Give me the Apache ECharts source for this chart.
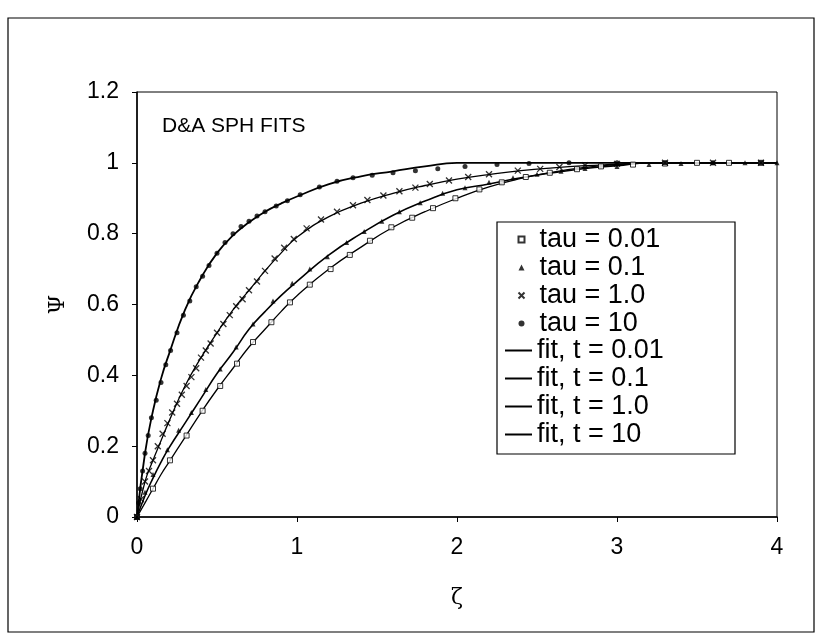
<!DOCTYPE html>
<html>
<head>
<meta charset="utf-8">
<script src="https://cdn.jsdelivr.net/npm/echarts@6.0.0/dist/echarts.min.js"></script>
<style>
  html, body { margin: 0; padding: 0; background: #fff; }
  #chart { width: 817px; height: 639px; }
</style>
</head>
<body>
<div id="chart"></div>
<script>
var xTau001 = [0, .1, .206, .31, .41, .52, .625, .725, .84, .956, 1.08, 1.21, 1.33, 1.456, 1.59, 1.72, 1.85, 1.99, 2.14, 2.28, 2.43, 2.58, 2.75, 2.9, 3.1, 3.3, 3.5, 3.7, 3.9];
var yTau001 = [0, .08, .16, .23, .30, .37, .433, .494, .55, .606, .656, .70, .74, .78, .818, .845, .872, .90, .925, .945, .96, .972, .982, .99, .995, .998, 1, 1, 1];

var xTau01 = [0, .05, .1, .19, .26, .34, .43, .52, .62, .725, .85, .97, 1.08, 1.19, 1.31, 1.42, 1.53, 1.64, 1.77, 1.91, 2.05, 2.2, 2.35, 2.5, 2.65, 2.8, 3.0, 3.2, 3.4, 3.6, 3.8, 4.0];
var yTau01 = [0, .07, .12, .19, .245, .295, .36, .418, .48, .545, .61, .66, .70, .735, .775, .806, .835, .862, .887, .914, .93, .945, .958, .968, .976, .984, .99, .995, .998, 1, 1, 1];

var xTau1 = [0, .025, .05, .075, .1, .13, .16, .19, .22, .25, .28, .31, .34, .37, .4, .43, .46, .5, .54, .58, .62, .66, .7, .75, .8, .86, .92, .98, 1.06, 1.15, 1.25, 1.35, 1.44, 1.54, 1.64, 1.74, 1.83, 1.95, 2.07, 2.2, 2.38, 2.52, 2.64, 2.8, 3.0, 3.3, 3.6, 3.9];
var yTau1 = [0, .05, .1, .13, .16, .2, .235, .265, .295, .32, .345, .37, .395, .42, .45, .47, .49, .52, .545, .57, .595, .615, .64, .665, .695, .73, .76, .785, .815, .84, .862, .88, .895, .908, .92, .93, .94, .95, .96, .968, .978, .983, .988, .993, .997, 1, 1, 1];

var xTau10 = [0, .01, .02, .035, .05, .07, .09, .12, .15, .18, .21, .25, .29, .33, .37, .41, .45, .5, .55, .6, .65, .7, .75, .8, .87, .94, 1.02, 1.14, 1.25, 1.35, 1.47, 1.6, 1.74, 1.88, 2.05, 2.25, 2.45, 2.7, 3.0, 3.3, 3.6, 3.9];
var yTau10 = [0, .04, .08, .13, .18, .23, .28, .33, .38, .43, .47, .52, .57, .61, .65, .68, .71, .745, .775, .80, .82, .835, .85, .862, .878, .893, .91, .932, .948, .958, .965, .972, .978, .983, .99, .995, .998, 1, 1, 1, 1, 1];

// fitted curves
var xFit = [0, .05, .1, .15, .2, .3, .4, .5, .6, .7, .8, .9, 1.0, 1.2, 1.4, 1.6, 1.8, 2.0, 2.2, 2.4, 2.6, 2.8, 3.0, 3.2, 3.5, 4.0];
var yFit001 = [0, .04, .08, .12, .155, .225, .295, .36, .42, .48, .53, .58, .625, .70, .762, .818, .862, .90, .932, .956, .974, .987, .995, 1, 1, 1];
var yFit01 = [0, .06, .11, .155, .195, .265, .335, .405, .465, .53, .58, .625, .665, .74, .80, .852, .892, .924, .94, .958, .972, .984, .992, 1, 1, 1];
var yFit1 = [0, .1, .16, .215, .27, .37, .45, .52, .585, .64, .695, .745, .79, .848, .886, .914, .936, .954, .967, .978, .986, .992, .996, 1, 1, 1];
var yFit10 = [0, .18, .30, .39, .46, .585, .675, .745, .795, .832, .862, .885, .905, .94, .962, .976, .99, 1, 1, 1, 1, 1, 1, 1, 1, 1];

var markerNames = ["tau = 0.01", "tau = 0.1", "tau = 1.0", "tau = 10"];
var fitNames = ["fit, t = 0.01", "fit, t = 0.1", "fit, t = 1.0", "fit, t = 10"];

function pairs(xs, ys) {
  return xs.map(function (x, i) { return [x, ys[i]]; });
}

var FONT = "'Liberation Sans', Arial, sans-serif";
var chart = echarts.init(document.getElementById("chart"));

var crossPath = "path://M0,0L10,10M10,0L0,10";

function fitSeries(name, ys, width) {
  return {
    name: name,
    type: "line",
    smooth: true,
    symbol: "none",
    lineStyle: { color: "#000", width: width },
    itemStyle: { color: "#000" },
    data: pairs(xFit, ys),
  };
}

var legendText = { fontFamily: FONT, fontSize: 27, color: "#000" };

var option = {
  backgroundColor: "#fff",
  animation: false,
  textStyle: { fontFamily: FONT, color: "#000" },
  title: {
    text: "D&A SPH FITS",
    left: 162,
    top: 116,
    padding: 0,
    textStyle: { fontFamily: FONT, fontSize: 21, fontWeight: "normal", color: "#000" },
  },
  graphic: [
    {
      // outer chart frame
      type: "rect",
      shape: { x: 8, y: 18, width: 806, height: 614 },
      style: { fill: "none", stroke: "#000", lineWidth: 1.2 },
      silent: true,
    },
    {
      // legend box
      type: "rect",
      shape: { x: 497, y: 222, width: 238, height: 232 },
      style: { fill: "#fff", stroke: "#000", lineWidth: 1.2 },
      z: 5,
      silent: true,
    },
  ],
  grid: {
    left: 137,
    top: 92,
    right: 40,
    bottom: 122,
    show: true,
    borderColor: "#000",
    borderWidth: 1,
    backgroundColor: "transparent",
  },
  legend: [
    {
      orient: "vertical",
      left: 516,
      top: 226,
      padding: 0,
      itemGap: 1,
      itemWidth: 6,
      itemHeight: 6,
      z: 10,
      textStyle: Object.assign({ padding: [0, 0, 0, 10] }, legendText),
      data: [
        { name: markerNames[0], icon: "rect" },
        { name: markerNames[1], icon: "triangle" },
        { name: markerNames[2], icon: crossPath },
        { name: markerNames[3], icon: "circle" },
      ],
    },
    {
      orient: "vertical",
      left: 505,
      top: 337,
      padding: 0,
      itemGap: 1,
      itemWidth: 27,
      itemHeight: 2,
      z: 10,
      textStyle: legendText,
      data: fitNames.map(function (n) {
        return { name: n, icon: "rect", itemStyle: { color: "#000", borderWidth: 0 } };
      }),
    },
  ],
  xAxis: {
    type: "value",
    min: 0,
    max: 4,
    interval: 1,
    name: "ζ",
    nameLocation: "middle",
    nameGap: 70,
    nameTextStyle: { fontFamily: "'DejaVu Serif', serif", fontSize: 22, color: "#000" },
    axisLine: { lineStyle: { color: "#000", width: 1.5 } },
    axisTick: { show: true, length: 5, lineStyle: { color: "#000" } },
    axisLabel: { fontSize: 23, color: "#000", margin: 19, fontFamily: FONT },
    splitLine: { show: false },
  },
  yAxis: {
    type: "value",
    min: 0,
    max: 1.2,
    interval: 0.2,
    name: "Ψ",
    nameLocation: "middle",
    nameRotate: 90,
    nameGap: 68,
    nameMoveOverlap: false,
    nameTextStyle: { fontFamily: "'DejaVu Serif', serif", fontSize: 22, color: "#000" },
    axisLine: { show: true, lineStyle: { color: "#000", width: 1.5 } },
    axisTick: { show: true, length: 5, lineStyle: { color: "#000" } },
    axisLabel: {
      fontSize: 23,
      color: "#000",
      margin: 18,
      fontFamily: FONT,
      formatter: function (v) { return String(Math.round(v * 10) / 10); },
    },
    splitLine: { show: false },
  },
  series: [
    {
      name: markerNames[0],
      type: "scatter",
      symbol: "rect",
      symbolSize: 5,
      itemStyle: { color: "#fff", borderColor: "#000", borderWidth: 1 },
      data: pairs(xTau001, yTau001),
      z: 3,
    },
    {
      name: markerNames[1],
      type: "scatter",
      symbol: "triangle",
      symbolSize: 5,
      itemStyle: { color: "#000" },
      data: pairs(xTau01, yTau01),
      z: 3,
    },
    {
      name: markerNames[2],
      type: "scatter",
      symbol: crossPath,
      symbolSize: 6,
      itemStyle: { color: "none", borderColor: "#000", borderWidth: 1.3 },
      data: pairs(xTau1, yTau1),
      z: 3,
    },
    {
      name: markerNames[3],
      type: "scatter",
      symbol: "circle",
      symbolSize: 5,
      itemStyle: { color: "#000" },
      data: pairs(xTau10, yTau10),
      z: 3,
    },
    fitSeries(fitNames[0], yFit001, 1.3),
    fitSeries(fitNames[1], yFit01, 1.6),
    fitSeries(fitNames[2], yFit1, 1.3),
    fitSeries(fitNames[3], yFit10, 1.8),
  ],
};

chart.setOption(option);
</script>
</body>
</html>
